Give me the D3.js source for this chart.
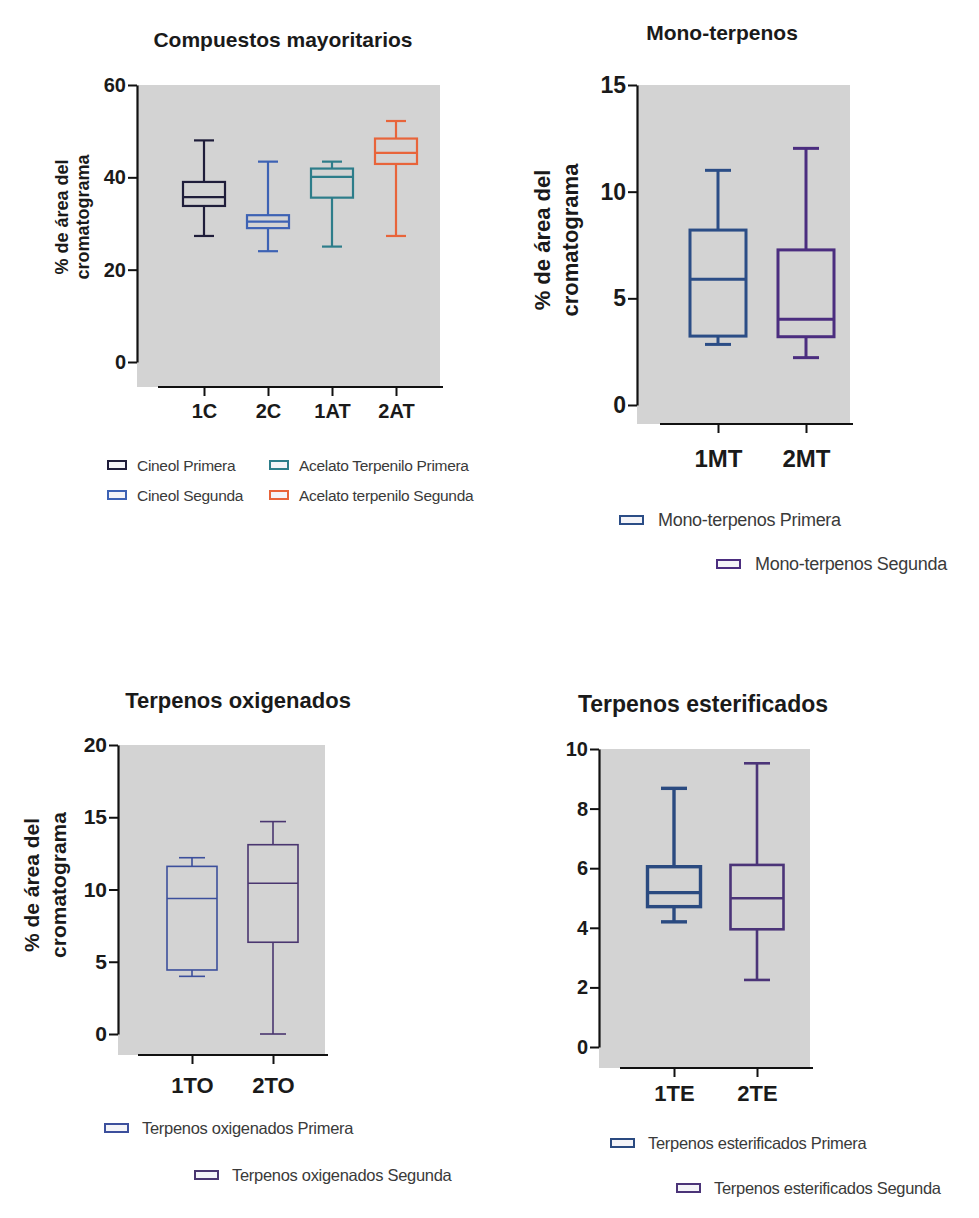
<!DOCTYPE html>
<html><head><meta charset="utf-8">
<script src="https://cdn.jsdelivr.net/npm/d3@7"></script>
<style>
body{margin:0;background:#fff;}
svg{display:block;font-family:"Liberation Sans",Arial,sans-serif;}
</style></head><body>
<svg id="c" width="979" height="1218"></svg>
<script>
// ---------- DATA ----------
const cats1 = ["1C","2C","1AT","2AT"];
const min1 = [27.3, 24.0, 25.0, 27.3];
const q1_1 = [33.8, 29.0, 35.6, 42.9];
const med1 = [35.7, 30.4, 40.1, 45.3];
const q3_1 = [39.0, 31.8, 41.9, 48.4];
const max1 = [48.0, 43.4, 43.4, 52.2];
const ticks1 = [0, 20, 40, 60];
const legend1 = ["Cineol Primera","Acelato Terpenilo Primera","Cineol Segunda","Acelato terpenilo Segunda"];

const cats2 = ["1MT","2MT"];
const min2 = [2.84, 2.22];
const q1_2 = [3.23, 3.2];
const med2 = [5.9, 4.02];
const q3_2 = [8.2, 7.27];
const max2 = [11.0, 12.03];
const ticks2 = [0, 5, 10, 15];
const legend2 = ["Mono-terpenos Primera","Mono-terpenos Segunda"];

const cats3 = ["1TO","2TO"];
const min3 = [3.99, 0];
const q1_3 = [4.43, 6.35];
const med3 = [9.38, 10.43];
const q3_3 = [11.6, 13.1];
const max3 = [12.2, 14.7];
const ticks3 = [0, 5, 10, 15, 20];
const legend3 = ["Terpenos oxigenados Primera","Terpenos oxigenados Segunda"];

const cats4 = ["1TE","2TE"];
const min4 = [4.2, 2.25];
const q1_4 = [4.71, 3.95];
const med4 = [5.18, 4.99];
const q3_4 = [6.05, 6.11];
const max4 = [8.68, 9.52];
const ticks4 = [0, 2, 4, 6, 8, 10];
const legend4 = ["Terpenos esterificados Primera","Terpenos esterificados Segunda"];

const yLabel = ["% de área del","cromatograma"];

// ---------- LAYOUT / STYLE ----------
const panels = [
  {title:"Compuestos mayoritarios", tx:283, ty:47, tfs:21,
   cats:cats1, mn:min1, q1:q1_1, md:med1, q3:q3_1, mx:max1, ticks:ticks1,
   colors:["#1f1d3a","#3d62b4","#2d7d8a","#e8643a"], lw:[2.2,2.2,2.2,2.2],
   ax:137, yTop:85, y0:362, gx1:440, gBot:387, xl0:158, xc0:204, xcN:396,
   bw:42, cw:20, tickFs:20, xFs:20, xLabY:418,
   yl:{x:[62,83], y:217, fs:18},
   legend:legend1, lfs:15.5,
   lpos:[[108,465],[270,465],[108,495],[270,495]], lgap:29},
  {title:"Mono-terpenos", tx:722, ty:40, tfs:21,
   cats:cats2, mn:min2, q1:q1_2, md:med2, q3:q3_2, mx:max2, ticks:ticks2,
   colors:["#2b4d86","#4b2d7f"], lw:[3,3],
   ax:637, yTop:85, y0:405, gx1:850, gBot:424, xl0:660, xc0:718, xcN:806,
   bw:56, cw:26, tickFs:23, xFs:24, xLabY:467,
   yl:{x:[542,570], y:240, fs:22},
   legend:legend2, lfs:18,
   lpos:[[620,520],[717,564]], lgap:38},
  {title:"Terpenos oxigenados", tx:238, ty:708, tfs:22,
   cats:cats3, mn:min3, q1:q1_3, md:med3, q3:q3_3, mx:max3, ticks:ticks3,
   colors:["#3c4f9c","#4a3670"], lw:[1.6,1.6],
   ax:118, yTop:745, y0:1034, gx1:325, gBot:1055, xl0:138, xc0:192, xcN:273,
   bw:50, cw:26, tickFs:21, xFs:22, xLabY:1093,
   yl:{x:[31,58], y:885, fs:21},
   legend:legend3, lfs:16.5,
   lpos:[[105,1128],[195,1175]], lgap:37},
  {title:"Terpenos esterificados", tx:703, ty:712, tfs:23,
   cats:cats4, mn:min4, q1:q1_4, md:med4, q3:q3_4, mx:max4, ticks:ticks4,
   colors:["#2a4a80","#4b3478"], lw:[3.4,2.6],
   ax:599, yTop:749, y0:1047, gx1:810, gBot:1068, xl0:620, xc0:674, xcN:757,
   bw:53, cw:26, tickFs:20, xFs:22, xLabY:1101,
   yl:null,
   legend:legend4, lfs:16.5,
   lpos:[[611,1143],[677,1188]], lgap:37}
];

const svg = d3.select("#c");

panels.forEach(p => {
  const g = svg.append("g");
  const yMax = d3.max(p.ticks);
  const y = d3.scaleLinear().domain([0, yMax]).range([p.y0, p.yTop]);
  const x = d3.scalePoint().domain(p.cats).range([p.xc0, p.xcN]);

  // gray plot background
  g.append("rect").attr("x", p.ax).attr("y", p.yTop)
    .attr("width", p.gx1 - p.ax).attr("height", p.gBot - p.yTop)
    .attr("fill", "#d3d3d3");

  // title
  g.append("text").attr("x", p.tx).attr("y", p.ty).attr("text-anchor","middle")
    .attr("font-weight","bold").attr("font-size", p.tfs).attr("fill","#1a1a1a")
    .text(p.title);

  // y axis
  const ya = g.append("g").attr("transform", `translate(${p.ax},0)`)
    .call(d3.axisLeft(y).tickValues(p.ticks).tickSize(9).tickSizeOuter(0).tickPadding(2));
  ya.select(".domain").attr("stroke","#111").attr("stroke-width",2.2);
  ya.selectAll(".tick line").attr("stroke","#111").attr("stroke-width",2);
  ya.selectAll(".tick text").attr("font-size", p.tickFs).attr("font-weight","bold")
    .attr("fill","#1a1a1a").attr("font-family","'Liberation Sans',Arial,sans-serif");

  // x axis
  g.append("line").attr("x1", p.xl0).attr("x2", p.gx1 + 3)
    .attr("y1", p.gBot).attr("y2", p.gBot).attr("stroke","#111").attr("stroke-width",2.2);
  const xa = g.append("g").attr("transform", `translate(0,${p.gBot})`)
    .call(d3.axisBottom(x).tickSize(9).tickSizeOuter(0).tickPadding(4));
  xa.select(".domain").remove();
  xa.selectAll(".tick line").attr("stroke","#111").attr("stroke-width",2);
  xa.selectAll(".tick text").attr("font-size", p.xFs).attr("font-weight","bold")
    .attr("fill","#1a1a1a").attr("font-family","'Liberation Sans',Arial,sans-serif")
    .attr("dy", null).attr("y", p.xLabY - p.gBot);

  // y label
  if (p.yl) {
    p.yl.x.forEach((lx, i) => {
      g.append("text").attr("transform", `translate(${lx},${p.yl.y}) rotate(-90)`)
        .attr("text-anchor","middle").attr("dominant-baseline","central")
        .attr("font-weight","bold").attr("font-size", p.yl.fs).attr("fill","#1a1a1a")
        .text(yLabel[i]);
    });
  }

  // boxes
  p.cats.forEach((c, i) => {
    const cx = x(c), col = p.colors[i], lw = p.lw[i];
    const bg = g.append("g").attr("stroke", col).attr("stroke-width", lw).attr("fill","none");
    bg.append("line").attr("x1",cx).attr("x2",cx).attr("y1",y(p.mx[i])).attr("y2",y(p.q3[i]));
    bg.append("line").attr("x1",cx).attr("x2",cx).attr("y1",y(p.q1[i])).attr("y2",y(p.mn[i]));
    bg.append("line").attr("x1",cx-p.cw/2).attr("x2",cx+p.cw/2).attr("y1",y(p.mx[i])).attr("y2",y(p.mx[i]));
    bg.append("line").attr("x1",cx-p.cw/2).attr("x2",cx+p.cw/2).attr("y1",y(p.mn[i])).attr("y2",y(p.mn[i]));
    bg.append("rect").attr("x",cx-p.bw/2).attr("width",p.bw)
      .attr("y",y(p.q3[i])).attr("height",y(p.q1[i])-y(p.q3[i]));
    bg.append("line").attr("x1",cx-p.bw/2).attr("x2",cx+p.bw/2).attr("y1",y(p.md[i])).attr("y2",y(p.md[i]));
  });

  // legend
  const legColors = p.legend.length === 4 ? [p.colors[0], p.colors[2], p.colors[1], p.colors[3]] : p.colors;
  p.legend.forEach((t, i) => {
    const [lx, ly] = p.lpos[i];
    const iw = p.lgap > 30 ? 23 : 18;
    g.append("rect").attr("x", lx).attr("y", ly - 4).attr("width", iw).attr("height", 8)
      .attr("fill","#f4f4f8").attr("stroke", legColors[i]).attr("stroke-width", 2);
    g.append("text").attr("x", lx + p.lgap).attr("y", ly).attr("dominant-baseline","central")
      .attr("font-size", p.lfs).attr("fill","#3a3a3a").attr("letter-spacing", -0.3)
      .text(t);
  });
});
</script>
</body></html>
